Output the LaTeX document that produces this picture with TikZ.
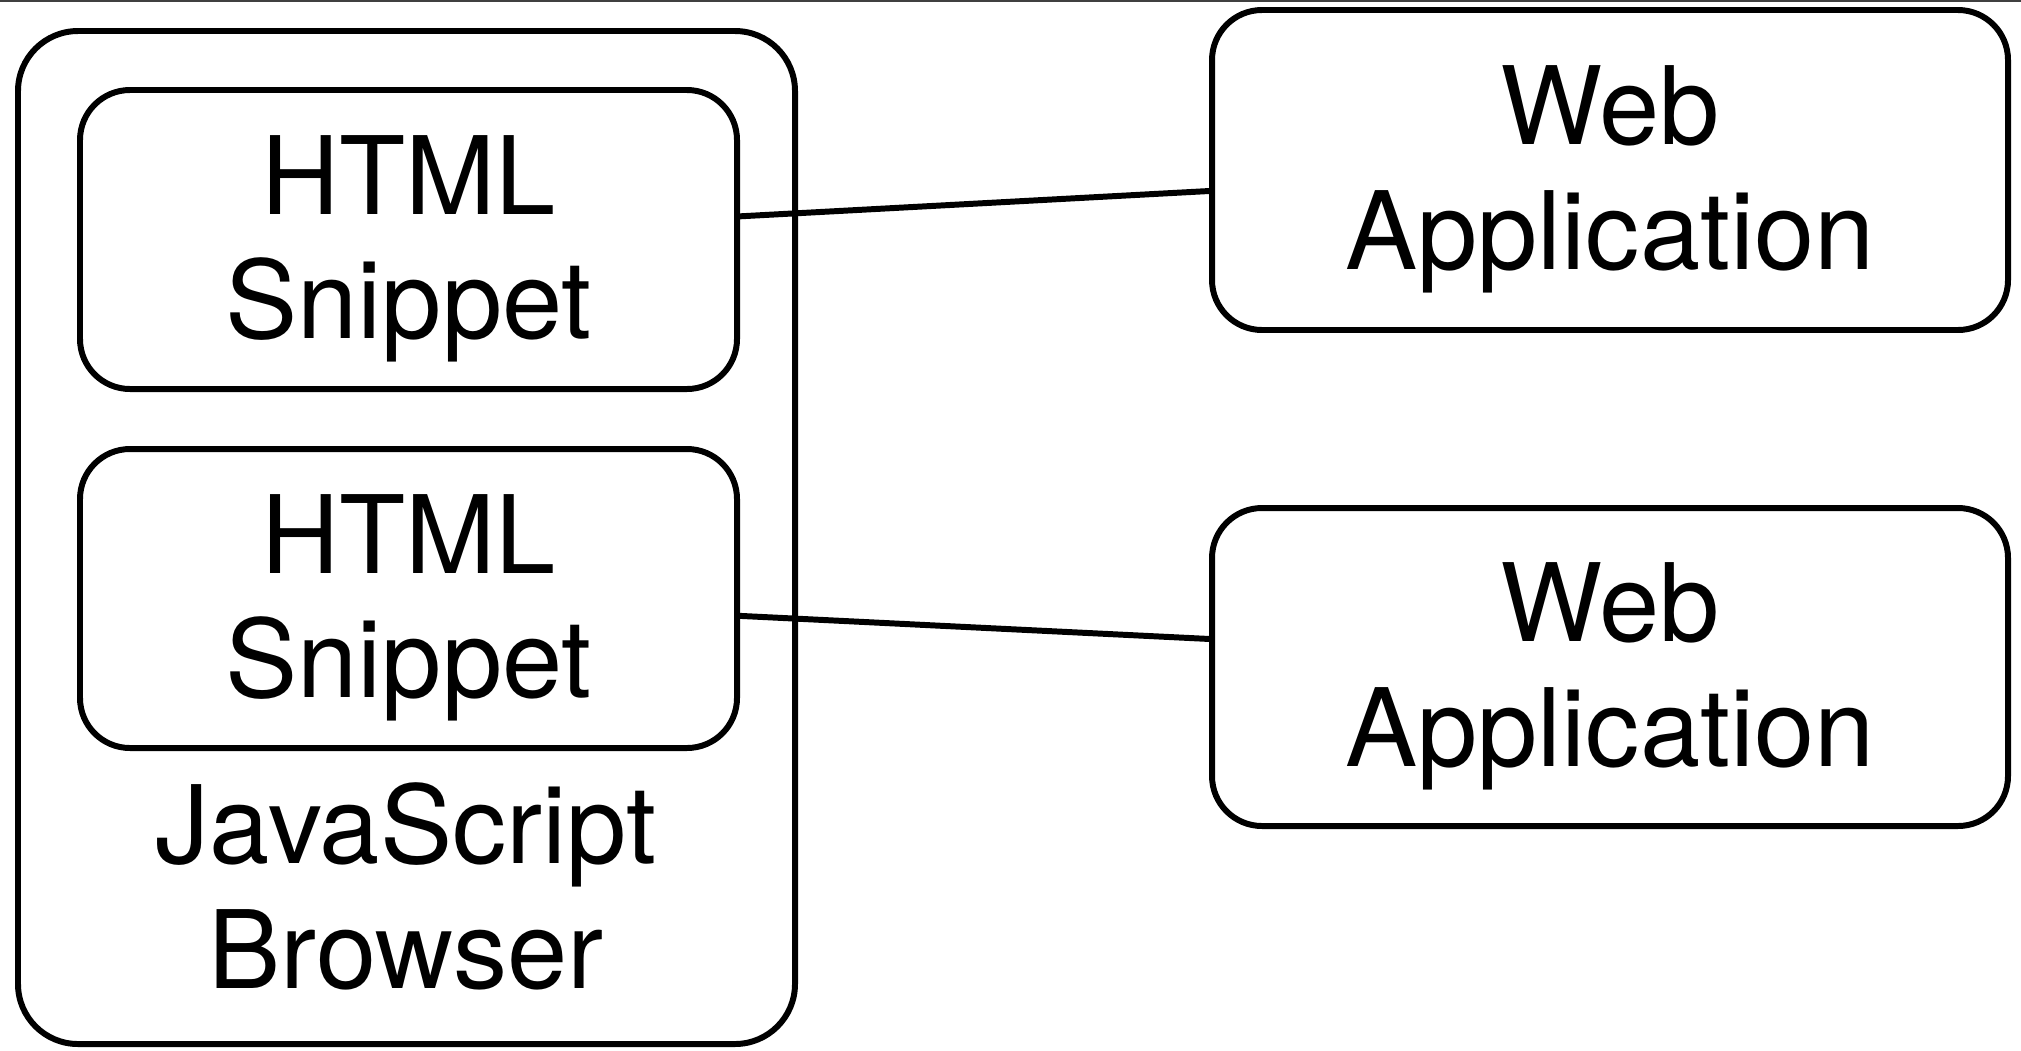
\documentclass[tikz,border=0pt]{standalone}
\usepackage{fontspec}
\setmainfont{TeX Gyre Heros}
\usepackage{tikz}

\tikzset{
    box/.style={draw, line width=1.7pt, rounded corners=0.5cm, align=center, inner sep=0pt},
    lowered/.style={text depth=1.4pt},
    link/.style={line width=1.7pt}
}

\begin{document}
\begin{tikzpicture}
        \useasboundingbox (0,0) rectangle (20.21,-10.5);
        \fontsize{30.8}{35.5}\selectfont
        \draw[line width=0.6pt, black!75] (0,-0.01) -- (20.21,-0.01);
        % browser with its two snippets
        \node[box, rounded corners=0.6cm, minimum width=7.77cm, minimum height=10.13cm] (browser) at (4.065,-5.375) {};
        \node[box, lowered, minimum width=6.57cm, minimum height=2.99cm] (snippetA) at (4.085,-2.395) {HTML\\Snippet};
        \node[box, lowered, minimum width=6.57cm, minimum height=2.99cm] (snippetB) at (4.085,-5.985) {HTML\\Snippet};
        \node[align=center] (browserlabel) at (4.06,-8.86) {JavaScript\\Browser};
        % applications
        \node[box, lowered, minimum width=7.96cm, minimum height=3.20cm] (appA) at (16.10,-1.70) {Web\\Application};
        \node[box, lowered, minimum width=7.96cm, minimum height=3.18cm] (appB) at (16.10,-6.67) {Web\\Application};
        \draw[link] (snippetA.4) -- (appA.183.2);
        \draw[link] (snippetB.357.5) -- (appB.176.6);
    \end{tikzpicture}
\end{document}
